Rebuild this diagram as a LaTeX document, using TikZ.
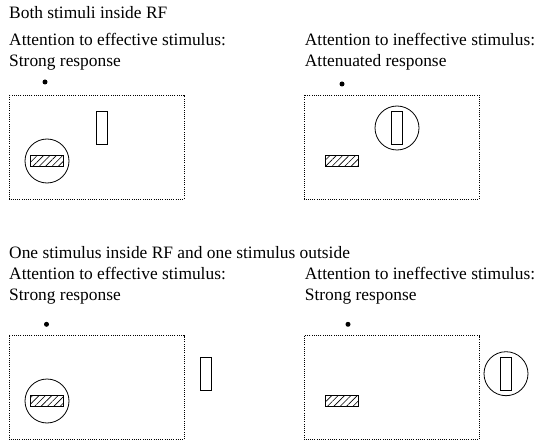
\documentclass[tikz,border=0pt]{standalone}
\usepackage{fontspec}
\setmainfont{Liberation Serif}
\usetikzlibrary{patterns.meta}

\tikzset{
  rf/.style={draw, line width=0.8pt, dash pattern=on 1pt off 1.2pt},
  fix/.style={circle, fill, inner sep=0pt, minimum size=5pt},
  bar/.style={draw, line width=0.8pt, inner sep=0pt, minimum width=10.5pt, minimum height=33pt},
  hatchbar/.style={draw, line width=0.8pt, inner sep=0pt, minimum width=33pt, minimum height=10.5pt,
    pattern={Lines[angle=45, distance=4.5pt, line width=0.6pt]}},
  attn/.style={draw, circle, line width=0.8pt, inner sep=0pt, minimum size=44pt},
  txt/.style={anchor=base west, inner sep=0pt, font=\fontsize{17.4}{21}\selectfont},
}

\begin{document}
\begin{tikzpicture}[x=1pt, y=-1pt]
\useasboundingbox (0,0) rectangle (536,441);

% both stimuli inside the RF
\node[txt] (both) at (9,19) {Both stimuli inside RF};
\node[txt] (effA) at (9,46) {Attention to effective stimulus:};
\node[txt] (effAr) at (9,67) {Strong response};
\node[txt] (ineffA) at (304.7,46) {Attention to ineffective stimulus:};
\node[txt] (ineffAr) at (304.7,67) {Attenuated response};

\draw[rf] (9,95) rectangle (184,199);
\node[fix] (fix1) at (45,82) {};
\node[bar] (bar1) at (102,127.7) {};
\node[attn] (att1) at (47,161) {};
\node[hatchbar] (hatch1) at (att1) {};

\draw[rf] (304,95) rectangle (479.3,199);
\node[fix] (fix2) at (342,84) {};
\node[attn] (att2) at (397,128) {};
\node[bar] (bar2) at (att2) {};
\node[hatchbar] (hatch2) at (342.3,160.8) {};

% one stimulus inside, one outside
\node[txt] (one) at (9,258.3) {One stimulus inside RF and one stimulus outside};
\node[txt] (effB) at (9,279.3) {Attention to effective stimulus:};
\node[txt] (effBr) at (9,300) {Strong response};
\node[txt] (ineffB) at (304.7,279.3) {Attention to ineffective stimulus:};
\node[txt] (ineffBr) at (304.7,300) {Strong response};

\draw[rf] (9,335.5) rectangle (184,439.5);
\node[fix] (fix3) at (46.5,324.3) {};
\node[attn] (att3) at (47,401) {};
\node[hatchbar] (hatch3) at (att3) {};
\node[bar] (bar3) at (205.8,373.7) {};

\draw[rf] (304,335.5) rectangle (479.3,439.5);
\node[fix] (fix4) at (348,324.3) {};
\node[hatchbar] (hatch4) at (342.3,401) {};
\node[attn] (att4) at (506,373.7) {};
\node[bar] (bar4) at (att4) {};
\end{tikzpicture}
\end{document}
